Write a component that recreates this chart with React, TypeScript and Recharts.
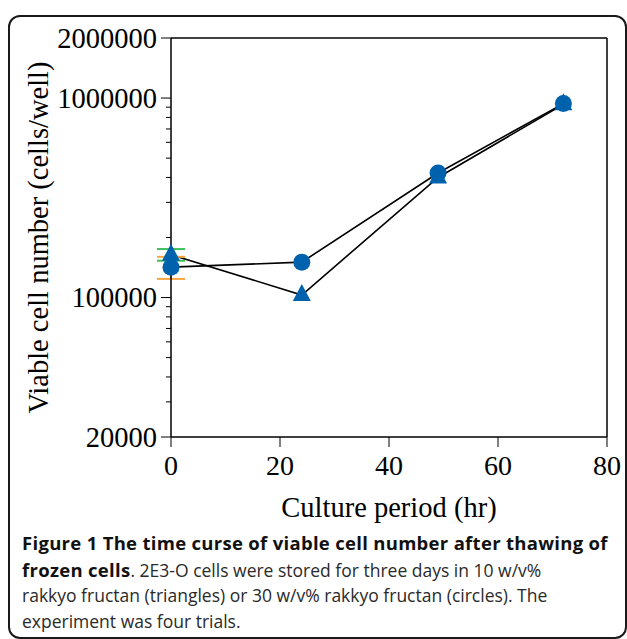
import React from "react"
import { ErrorBar, Label, Line, LineChart, ReferenceLine, XAxis, YAxis } from "recharts"

// culture period (hr)
const hours = [0, 24, 49, 72]
// 10 w/v% rakkyo fructan (triangles)
const triangleCells = [164000, 103000, 400000, 930000]
// only the 0 hr bars show outside the markers
const triangleErr = [11000, 0, 0, 0]
// 30 w/v% rakkyo fructan (circles)
const circleCells = [142000, 150500, 421000, 938000]
const circleErr = [18000, 0, 0, 0]

const xTicks = [0, 20, 40, 60, 80]
const yTicks = [
    20000, 30000, 40000, 50000, 60000, 70000, 80000, 90000,
    100000, 200000, 300000, 400000, 500000, 600000, 700000, 800000, 900000,
    1000000, 2000000,
]
const yLabelled = [20000, 100000, 1000000, 2000000]

const data = hours.map((h, i) => ({
    hr: h,
    tri: triangleCells[i],
    triErr: triangleErr[i],
    circ: circleCells[i],
    circErr: circleErr[i],
}))

const serif = "'Liberation Serif', 'Times New Roman', serif"
const blue = "#0062ad"

const YTick = (props: any) => {
    const { x, y, payload } = props
    const axisX = x + 14
    const major = yLabelled.includes(payload.value)
    return (
        <g>
            <line x1={axisX} x2={axisX - (major ? 10 : 5)} y1={y} y2={y} stroke="#000" strokeWidth={1} />
            {major && (
                <text x={x} y={y} dy="0.34em" textAnchor="end" fontSize={28.5} fontFamily={serif} fill="#000">
                    {payload.value}
                </text>
            )}
        </g>
    )
}

const CircleDot = (props: any) => {
    const { cx, cy } = props
    if (cx == null || cy == null) return null
    return <circle cx={cx} cy={cy} r={8.5} fill={blue} />
}

const TriangleDot = (props: any) => {
    const { cx, cy } = props
    if (cx == null || cy == null) return null
    return <polygon points={`${cx},${cy - 11} ${cx - 9},${cy + 6} ${cx + 9},${cy + 6}`} fill={blue} />
}

const App = () => {
    return (
        <div style={{ position: "absolute", left: 0, top: 0, width: 627, height: 639, background: "#fff" }}>
            <div
                style={{
                    position: "absolute", left: 8, top: 15, width: 619, height: 624,
                    boxSizing: "border-box", border: "2px solid #1a1a1a", borderRadius: 12,
                }}
            />
            <div style={{ position: "absolute", left: 0, top: 0 }}>
                <LineChart width={627} height={530} data={data} margin={{ top: 38, right: 20, left: 10, bottom: 13 }}>
                    <XAxis
                        dataKey="hr"
                        type="number"
                        domain={[0, 80]}
                        ticks={xTicks}
                        height={80}
                        tickSize={10}
                        tickMargin={8}
                        stroke="#000"
                        axisLine={{ stroke: "#000", strokeWidth: 1.5 }}
                        tickLine={{ stroke: "#000" }}
                        tick={{ fontSize: 28, fill: "#000", fontFamily: serif }}
                    >
                        <Label
                            value="Culture period (hr)"
                            position="insideBottom"
                            offset={0}
                            style={{ fontSize: 28.5, fill: "#000", fontFamily: serif }}
                        />
                    </XAxis>
                    <YAxis
                        scale="log"
                        domain={[20000, 2000000]}
                        allowDataOverflow
                        ticks={yTicks}
                        interval={0}
                        width={161}
                        tickSize={10}
                        tickMargin={4}
                        tickLine={false}
                        axisLine={{ stroke: "#000", strokeWidth: 1.5 }}
                        tick={<YTick />}
                    >
                        <Label
                            value="Viable cell number (cells/well)"
                            angle={-90}
                            position="insideLeft"
                            offset={28}
                            style={{ fontSize: 28.5, fill: "#000", fontFamily: serif, textAnchor: "middle" }}
                        />
                    </YAxis>
                    <ReferenceLine y={2000000} stroke="#000" strokeWidth={1.5} />
                    <ReferenceLine x={80} stroke="#000" strokeWidth={1.5} />
                    <Line
                        dataKey="tri"
                        stroke="#000"
                        strokeWidth={1.6}
                        dot={<TriangleDot />}
                        activeDot={false}
                        isAnimationActive={false}
                    >
                        <ErrorBar dataKey="triErr" width={14} stroke="#3cbf5a" strokeWidth={2} direction="y" />
                    </Line>
                    <Line
                        dataKey="circ"
                        stroke="#000"
                        strokeWidth={1.6}
                        dot={<CircleDot />}
                        activeDot={false}
                        isAnimationActive={false}
                    >
                        <ErrorBar dataKey="circErr" width={14} stroke="#f5a544" strokeWidth={2} direction="y" />
                    </Line>
                </LineChart>
            </div>
            <div
                style={{
                    position: "absolute", left: 22, top: 530, width: 600,
                    fontFamily: "'Open Sans', sans-serif", fontSize: 17.5, lineHeight: "25.5px",
                    color: "#2a2a2a", whiteSpace: "nowrap",
                }}
            >
                <b style={{ color: "#111", fontSize: 18.5, letterSpacing: 0.3 }}>
                    Figure 1 The time curse of viable cell number after thawing of
                </b>
                <br />
                <b style={{ color: "#111", fontSize: 18.5, letterSpacing: 0.3 }}>frozen cells</b>. 2E3-O cells were
                stored for three days in 10 w/v%
                <br />
                rakkyo fructan (triangles) or 30 w/v% rakkyo fructan (circles). The
                <br />
                experiment was four trials.
            </div>
        </div>
    )
}

export default App
